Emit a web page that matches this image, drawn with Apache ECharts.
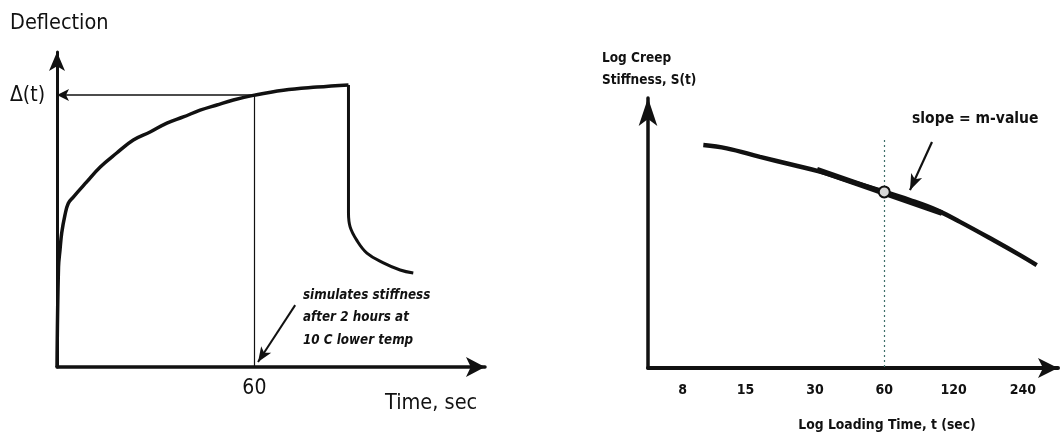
<!DOCTYPE html>
<html><head><meta charset="utf-8">
<script src="https://cdn.jsdelivr.net/npm/echarts@6/dist/echarts.min.js"></script>
<style>html,body{margin:0;padding:0;background:#fff}#c{width:1060px;height:438px}</style>
</head><body><div id="c"></div>
<script>
// ---- Left panel: deflection vs. time (creep loading, then unloading) ----
const loadTime = [0, 0.46, 0.91, 1.43, 2.43, 3.44, 4.96, 9.03, 13.07, 18.15, 23.2, 28.3, 33.4, 38.4, 43.5, 48.6, 53.6, 60, 68.8, 79.0, 88.6];
const loadDeflection = [0, 32.5, 38, 43.5, 49.4, 53.2, 55.2, 60.1, 64.9, 69.5, 73.7, 76.3, 79.2, 81.2, 83.4, 85.1, 86.7, 88.3, 89.9, 90.9, 91.6];
const unloadTime = [88.6, 88.6];
const unloadDeflection = [91.6, 50.0];
const recoveryTime = [88.6, 89.1, 91.1, 94.2, 99.2, 104.3, 108.3];
const recoveryDeflection = [50.0, 45.5, 41.2, 37.0, 33.8, 31.5, 30.5];
const readTime = 60;
const readDeflection = 88.3;
const leftTickLabels = ['60'];
const noteArrowTime = [72.4, 61.1];
const noteArrowDeflection = [20.1, 1.6];
const noteLines = ['simulates stiffness', 'after 2 hours at', '10 C lower temp'];

// ---- Right panel: log creep stiffness vs. log loading time ----
const loadingTimes = [9.83, 12.42, 17.32, 24.17, 31.56, 41.22, 55.64, 77.6, 101.4, 127.96, 178.5, 233.1, 275.5];
const logStiffness = [87.1, 85.8, 82.5, 79.3, 76.7, 73.4, 69.8, 65.6, 61.7, 57.1, 50.0, 44.1, 40.2];
const rightTickLabels = ['8', '15', '30', '60', '120', '240'];
const mTime = 60;
const mStiffness = 68.8;
const mGuideTop = 89.1;
const tangentTime = [30.63, 106.9];
const tangentStiffness = [77.5, 60.5];
const slopeArrowTime = [96.7, 77.6];
const slopeArrowStiffness = [88.3, 69.5];

const zip = (xs, ys) => xs.map((x, i) => [x, ys[i]]);
const FONT = '"DejaVu Sans Condensed", "Liberation Sans Narrow", "Liberation Sans", Arial, sans-serif';
const INK = '#111';

const chart = echarts.init(document.getElementById('c'), null, {renderer: 'canvas'});

const hiddenY = (gi, max, arrowSize, w) => ({
  type: 'value', gridIndex: gi, min: 0, max: max,
  axisLine: {show: true, onZero: false, symbol: ['none', 'arrow'], symbolSize: arrowSize, lineStyle: {color: INK, width: w}},
  axisTick: {show: false}, axisLabel: {show: false}, splitLine: {show: false}
});

chart.setOption({
  animation: false,
  backgroundColor: '#fff',
  grid: [
    {left: 57, top: 52, width: 428, height: 315},
    {left: 648, top: 98, width: 410, height: 270}
  ],
  xAxis: [
    {
      type: 'value', gridIndex: 0, min: 0, max: 130.1,
      axisLine: {show: true, onZero: false, symbol: ['none', 'arrow'], symbolSize: [15, 19], lineStyle: {color: INK, width: 3.5}},
      axisTick: {show: false}, splitLine: {show: false},
      axisLabel: {customValues: leftTickLabels.map(Number), color: INK, fontFamily: FONT, fontSize: 21, margin: 11}
    },
    {
      type: 'log', logBase: 2, gridIndex: 1, min: 5.654, max: 340.9,
      axisLine: {show: true, onZero: false, symbol: ['none', 'arrow'], symbolSize: [15, 20], lineStyle: {color: INK, width: 4}},
      axisTick: {show: false}, splitLine: {show: false}, minorSplitLine: {show: false},
      axisLabel: {customValues: rightTickLabels.map(Number), color: INK, fontFamily: FONT, fontWeight: 'bold', fontSize: 14, margin: 15}
    }
  ],
  yAxis: [hiddenY(0, 102.3, [12, 19], 3), hiddenY(1, 105.5, [14, 28], 3.5)],
  graphic: [
    {type: 'text', x: 10, y: 23, style: {text: 'Deflection', font: '21.5px ' + FONT, fill: INK, verticalAlign: 'middle'}},
    {type: 'text', x: 385, y: 403, style: {text: 'Time, sec', font: '21.5px ' + FONT, fill: INK, verticalAlign: 'middle'}},
    {type: 'text', x: 303, y: 318, style: {text: noteLines.join('\n'), font: 'italic bold 13.3px ' + FONT, lineHeight: 22.5, fill: INK, verticalAlign: 'middle'}},
    {type: 'text', x: 602, y: 58, style: {text: 'Log Creep', font: 'bold 13.5px ' + FONT, fill: INK, verticalAlign: 'middle'}},
    {type: 'text', x: 602, y: 80, style: {text: 'Stiffness, S(t)', font: 'bold 13.5px ' + FONT, fill: INK, verticalAlign: 'middle'}},
    {type: 'text', x: 912, y: 119, style: {text: 'slope = m-value', font: 'bold 15.5px ' + FONT, fill: INK, verticalAlign: 'middle'}},
    {type: 'text', x: 887, y: 425, style: {text: 'Log Loading Time, t (sec)', font: 'bold 13.8px ' + FONT, fill: INK, align: 'center', verticalAlign: 'middle'}}
  ],
  series: [
    {
      name: 'Creep loading', type: 'line', xAxisIndex: 0, yAxisIndex: 0,
      data: zip(loadTime, loadDeflection), smooth: 0.4, showSymbol: false,
      lineStyle: {color: INK, width: 3.5},
      markLine: {
        silent: true, animation: false, symbol: ['none', 'arrow'],
        data: [
          [
            {coord: [readTime, readDeflection], symbol: 'none', lineStyle: {color: INK, width: 1.6, type: 'solid'},
             label: {show: true, position: 'end', formatter: 'Δ(t)', color: INK, fontFamily: FONT, fontSize: 21, distance: 12}},
            {coord: [0, readDeflection], symbol: 'arrow', symbolSize: [9, 12], lineStyle: {color: INK, width: 1.6, type: 'solid'},
             label: {show: true, position: 'end', formatter: 'Δ(t)', color: INK, fontFamily: FONT, fontSize: 21, distance: 12}}
          ],
          [
            {coord: [readTime, readDeflection], symbol: 'none', lineStyle: {color: INK, width: 1.2, type: 'solid'}, label: {show: false}},
            {coord: [readTime, 0], symbol: 'none', lineStyle: {color: INK, width: 1.2, type: 'solid'}, label: {show: false}}
          ],
          [
            {coord: [noteArrowTime[0], noteArrowDeflection[0]], symbol: 'none', lineStyle: {color: INK, width: 2, type: 'solid'}, label: {show: false}},
            {coord: [noteArrowTime[1], noteArrowDeflection[1]], symbol: 'arrow', symbolSize: [9, 15], lineStyle: {color: INK, width: 2, type: 'solid'}, label: {show: false}}
          ]
        ]
      }
    },
    {
      name: 'Unloading', type: 'line', xAxisIndex: 0, yAxisIndex: 0,
      data: zip(unloadTime, unloadDeflection), showSymbol: false,
      lineStyle: {color: INK, width: 3}
    },
    {
      name: 'Recovery', type: 'line', xAxisIndex: 0, yAxisIndex: 0,
      data: zip(recoveryTime, recoveryDeflection), smooth: 0.4, showSymbol: false,
      lineStyle: {color: INK, width: 3}
    },
    {
      name: 'Creep stiffness', type: 'line', xAxisIndex: 1, yAxisIndex: 1,
      data: zip(loadingTimes, logStiffness), smooth: 0.4, showSymbol: false,
      lineStyle: {color: INK, width: 4.5},
      markLine: {
        silent: true, animation: false, symbol: ['none', 'none'],
        data: [
          [
            {coord: [mTime, mGuideTop], symbol: 'none', lineStyle: {color: '#3f6f6a', width: 1.2, type: [2, 3]}, label: {show: false}},
            {coord: [mTime, 0], symbol: 'none', lineStyle: {color: '#3f6f6a', width: 1.2, type: [2, 3]}, label: {show: false}}
          ],
          [
            {coord: [slopeArrowTime[0], slopeArrowStiffness[0]], symbol: 'none', lineStyle: {color: INK, width: 2.2, type: 'solid'}, label: {show: false}},
            {coord: [slopeArrowTime[1], slopeArrowStiffness[1]], symbol: 'arrow', symbolSize: [9, 16], lineStyle: {color: INK, width: 2.2, type: 'solid'}, label: {show: false}}
          ]
        ]
      }
    },
    {
      name: 'Tangent', type: 'line', xAxisIndex: 1, yAxisIndex: 1,
      data: zip(tangentTime, tangentStiffness), showSymbol: false,
      lineStyle: {color: INK, width: 5.5},
      markPoint: {
        silent: true, animation: false,
        data: [{coord: [mTime, mStiffness], symbol: 'circle', symbolSize: 11,
                itemStyle: {color: '#d8d8d8', borderColor: INK, borderWidth: 2}, label: {show: false}}]
      }
    }
  ]
});
</script>
</body></html>
